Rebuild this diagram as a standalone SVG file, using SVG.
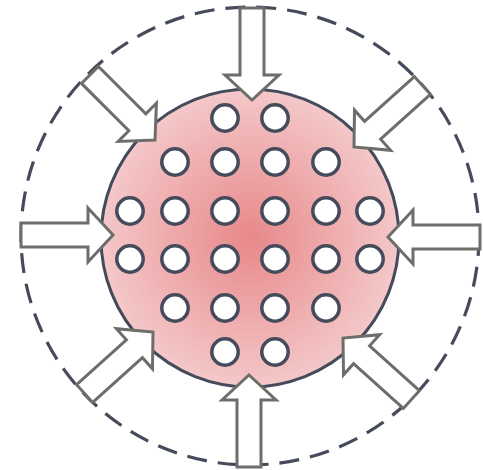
<svg xmlns="http://www.w3.org/2000/svg" width="483" height="470" viewBox="0 0 483 470">
  <defs>
    <radialGradient id="pink" cx="50%" cy="50%" r="50%">
      <stop offset="0" stop-color="#e8888a"/>
      <stop offset="1" stop-color="#f4c8c9"/>
    </radialGradient>
    <path id="arrow" d="M-92,-12 L-25,-12 L-25,-27 L0,0 L-25,27 L-25,12 L-92,12 Z"/>
    <style>
      .outer { fill: none; stroke: #464b5c; stroke-width: 3.2; stroke-dasharray: 20 11; }
      .body { fill: url(#pink); stroke: #464b5c; stroke-width: 3; }
      .hole { fill: #ffffff; stroke: #464b5c; stroke-width: 3.5; }
      .arr { fill: #ffffff; stroke: #6d6e6a; stroke-width: 3; stroke-linejoin: miter; }
    </style>
  </defs>
  <g id="boundary">
    <circle class="outer" cx="250" cy="236" r="229"/>
  </g>
  <g id="body">
    <circle class="body" cx="250" cy="238" r="149"/>
  </g>
  <g id="holes">
    <circle class="hole" cx="225" cy="118" r="13.2"/>
    <circle class="hole" cx="275" cy="118" r="13.2"/>
    <circle class="hole" cx="175" cy="162" r="13.2"/>
    <circle class="hole" cx="225" cy="162" r="13.2"/>
    <circle class="hole" cx="275" cy="162" r="13.2"/>
    <circle class="hole" cx="326" cy="162" r="13.2"/>
    <circle class="hole" cx="130" cy="211" r="13.2"/>
    <circle class="hole" cx="175" cy="211" r="13.2"/>
    <circle class="hole" cx="225" cy="211" r="13.2"/>
    <circle class="hole" cx="275" cy="211" r="13.2"/>
    <circle class="hole" cx="326" cy="211" r="13.2"/>
    <circle class="hole" cx="370" cy="211" r="13.2"/>
    <circle class="hole" cx="130" cy="259" r="13.2"/>
    <circle class="hole" cx="175" cy="259" r="13.2"/>
    <circle class="hole" cx="225" cy="259" r="13.2"/>
    <circle class="hole" cx="275" cy="259" r="13.2"/>
    <circle class="hole" cx="326" cy="259" r="13.2"/>
    <circle class="hole" cx="370" cy="259" r="13.2"/>
    <circle class="hole" cx="175" cy="308" r="13.2"/>
    <circle class="hole" cx="225" cy="308" r="13.2"/>
    <circle class="hole" cx="275" cy="308" r="13.2"/>
    <circle class="hole" cx="326" cy="308" r="13.2"/>
    <circle class="hole" cx="225" cy="352" r="13.2"/>
    <circle class="hole" cx="275" cy="352" r="13.2"/>
  </g>
  <g id="arrows">
    <use href="#arrow" class="arr" transform="translate(252,100) rotate(90)"/>
    <use href="#arrow" class="arr" transform="translate(249,375) rotate(-90)"/>
    <use href="#arrow" class="arr" transform="translate(113,235) rotate(0)"/>
    <use href="#arrow" class="arr" transform="translate(388,237) rotate(180)"/>
    <use href="#arrow" class="arr" transform="translate(155,140) rotate(45)"/>
    <use href="#arrow" class="arr" transform="translate(354,147) rotate(138)"/>
    <use href="#arrow" class="arr" transform="translate(153,332) rotate(-42)"/>
    <use href="#arrow" class="arr" transform="translate(343,338) rotate(-138)"/>
  </g>
</svg>
